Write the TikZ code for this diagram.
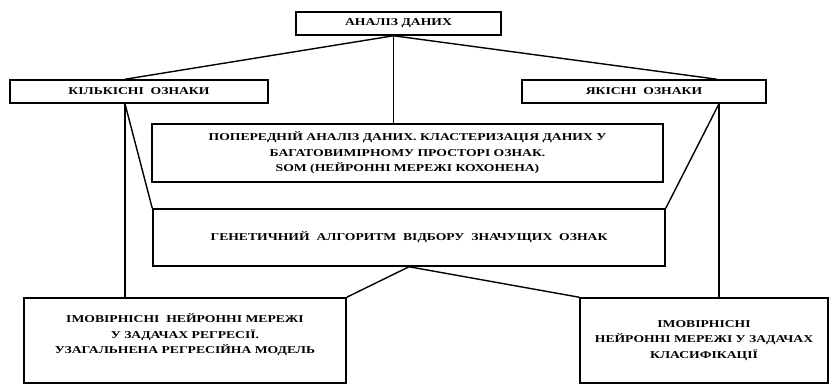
\documentclass[tikz,border=0pt]{standalone}
\usepackage{fontspec}
\setmainfont[FakeStretch=1.3]{Liberation Serif}
\usetikzlibrary{positioning}
\tikzset{
  box/.style={draw, line width=1.5pt, align=center, inner sep=2pt,
    font=\bfseries\fontsize{10.5}{15.5}\selectfont},
  link/.style={line width=1.4pt}
}

\begin{document}
\begin{tikzpicture}[x=1pt, y=-1pt]
      \useasboundingbox (0, 0) rectangle (830, 385);
      % top
      \node[box, minimum width=205, minimum height=23] (data) at (398.5, 23.5) {АНАЛІЗ ДАНИХ};
      % features
      \node[box, minimum width=258, minimum height=23] (quant) at (139, 91.5) {КІЛЬКІСНІ\ \ ОЗНАКИ};
      \node[box, minimum width=244, minimum height=23] (qual) at (644, 91.5) {ЯКІСНІ\ \ ОЗНАКИ};
      % middle
      \node[box, minimum width=511, minimum height=58] (pre) at (407.5, 153)
        {ПОПЕРЕДНІЙ АНАЛІЗ ДАНИХ. КЛАСТЕРИЗАЦІЯ ДАНИХ У\\
         БАГАТОВИМІРНОМУ ПРОСТОРІ ОЗНАК.\\
         SOM (НЕЙРОННІ МЕРЕЖІ КОХОНЕНА)};
      \node[box, minimum width=512, minimum height=57] (gen) at (409, 237.5)
        {ГЕНЕТИЧНИЙ\ \ АЛГОРИТМ\ \ ВІДБОРУ\ \ ЗНАЧУЩИХ\ \ ОЗНАК};
      % bottom
      \node[box, minimum width=322, minimum height=85] (regr) at (185, 340.5)
        {ІМОВІРНІСНІ\ \ НЕЙРОННІ МЕРЕЖІ\\
         У ЗАДАЧАХ РЕГРЕСІЇ.\\
         УЗАГАЛЬНЕНА РЕГРЕСІЙНА МОДЕЛЬ\\[-2pt]\mbox{}};
      \node[box, minimum width=248, minimum height=85] (clas) at (704, 340.5)
        {ІМОВІРНІСНІ\\
         НЕЙРОННІ МЕРЕЖІ У ЗАДАЧАХ\\
         КЛАСИФІКАЦІЇ};
      % lines from top
      \draw[link] ([xshift=-5]data.south) -- ([xshift=-14]quant.north);
      \draw[link] ([xshift=-5]data.south) -- ([xshift=-5]data.south |- pre.north);
      \draw[link] ([xshift=-5]data.south) -- ([xshift=73]qual.north);
      % lines from features
      \draw[link] ([xshift=-14]quant.south) -- (gen.north west);
      \draw[link] ([xshift=-14]quant.south) -- ([xshift=-14]quant.south |- regr.north);
      \draw[link] ([xshift=75]qual.south) -- (gen.north east);
      \draw[link] ([xshift=75]qual.south) -- ([xshift=75]qual.south |- clas.north);
      % lines to bottom
      \draw[link] (gen.south) -- (regr.north east);
      \draw[link] (gen.south) -- (clas.north west);
\end{tikzpicture}
\end{document}
